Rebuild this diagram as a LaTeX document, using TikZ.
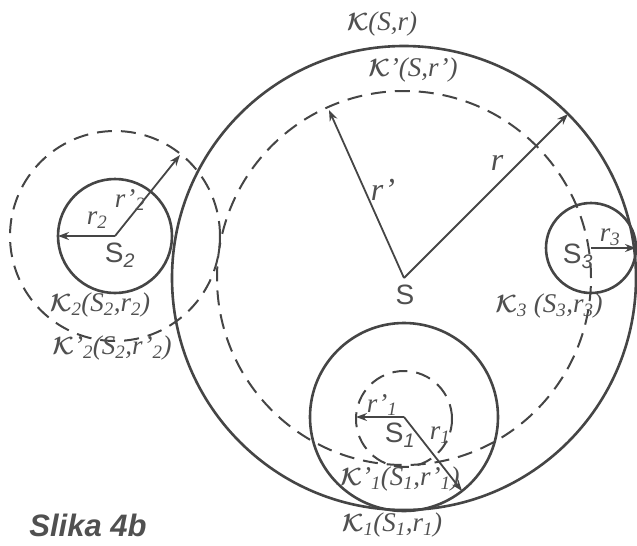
\documentclass[tikz,border=0pt]{standalone}
\usepackage{fontspec}
\usepackage{amsmath}
\setmainfont{Liberation Serif}
\setsansfont{Liberation Sans}
\usetikzlibrary{arrows.meta}
\definecolor{ink}{HTML}{454545}
\definecolor{txt}{HTML}{505050}
\newcommand\Kc{$\boldsymbol{\mathcal{K}}$}
\newcommand\sbs[1]{\textsubscript{\itshape #1}}
\begin{document}
\begin{tikzpicture}[x=1pt,y=-1pt,
  solidc/.style={draw=ink,line width=2.6pt},
  dashc/.style={draw=ink,line width=2pt,dash pattern=on 15pt off 9pt},
  rad/.style={draw=ink,line width=1.8pt,-{Stealth[length=11pt,width=8pt]}},
  lab/.style={text=txt,inner sep=0pt,font=\fontsize{27}{29}\selectfont\itshape},
  rlab/.style={text=txt,inner sep=0pt,font=\fontsize{32}{34}\selectfont\itshape},
  slab/.style={text=txt,inner sep=0pt,font=\fontsize{28}{30}\selectfont\sffamily}]
\useasboundingbox (0,0) rectangle (637,546);
% centres
\coordinate (S) at (404,278);
\coordinate (S1) at (404,417);
\coordinate (S1d) at (404,419);
\coordinate (S2) at (115,236);
\coordinate (S3) at (591,248);
% circles
\draw[solidc] (S) circle[radius=232pt];
\draw[dashc] (S) circle[radius=187pt];
\draw[solidc] (S1) circle[radius=94pt];
\draw[dashc] (S1d) circle[radius=48pt];
\draw[solidc] (S2) circle[radius=57pt];
\draw[dashc] (S2) circle[radius=105pt];
\draw[solidc] (S3) circle[radius=45pt];
% radius tips
\coordinate (tr) at (568,114);
\coordinate (trp) at (329,110);
\coordinate (tr1) at (462,491);
\coordinate (tr1p) at (356,417);
\coordinate (tr2) at (58,236);
\coordinate (tr2p) at (180,155);
\coordinate (tr3) at (636,248);
\draw[rad] (S) -- (tr);
\draw[rad] (S) -- (trp);
\draw[rad] (S1) -- (tr1);
\draw[rad] (S1) -- (tr1p);
\draw[rad] (S2) -- (tr2);
\draw[rad] (S2) -- (tr2p);
\draw[rad] (S3) -- (tr3);
% labels
\node[lab] (lK) at (382,24) {\Kc(S,r)};
\node[lab] (lKp) at (413,70) {\Kc'(S,r')};
\node[rlab] (lr) at (497,163) {r};
\node[rlab] (lrp) at (383,190) {r'};
\node[slab] (lS) at (405,295) {S};
\node[slab] (lS2) at (120,255) {S\sbs{2}};
\node[lab] (lr2) at (97,220) {r\sbs{2}};
\node[lab] (lr2p) at (130,200) {r'\sbs{2}};
\node[lab] (lK2) at (100,305) {\Kc\sbs{2}(S\sbs{2},r\sbs{2})};
\node[lab] (lK2p) at (112,348) {\Kc'\sbs{2}(S\sbs{2},r'\sbs{2})};
\node[slab] (lS3) at (578,256) {S\sbs{3}};
\node[lab] (lr3) at (610,237) {r\sbs{3}};
\node[lab] (lK3) at (549,306) {\Kc\sbs{3} (S\sbs{3},r\sbs{3})};
\node[slab] (lS1) at (400,435) {S\sbs{1}};
\node[lab] (lr1p) at (382,405) {r'\sbs{1}};
\node[lab] (lr1) at (440,435) {r\sbs{1}};
\node[lab] (lK1p) at (400,479) {\Kc'\sbs{1}(S\sbs{1},r'\sbs{1})};
\node[lab] (lK1) at (392,525) {\Kc\sbs{1}(S\sbs{1},r\sbs{1})};
\node[text=txt,inner sep=0pt,font=\fontsize{31}{33}\selectfont\sffamily\bfseries\itshape] (cap) at (88,525) {Slika 4b};
\end{tikzpicture}
\end{document}
